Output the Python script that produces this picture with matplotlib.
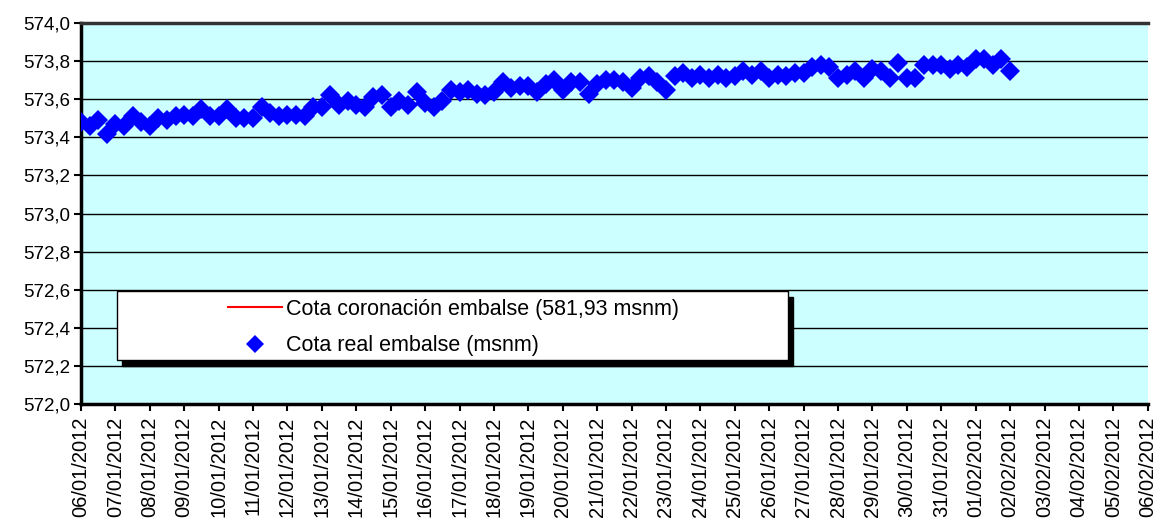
import matplotlib
matplotlib.use("Agg")
import matplotlib.pyplot as plt
import matplotlib.dates as mdates
from matplotlib.patches import Rectangle
from matplotlib.ticker import FuncFormatter, MultipleLocator
from matplotlib.lines import Line2D
import pandas as pd

plt.rcParams['font.family'] = ['Liberation Sans', 'DejaVu Sans']

start_time = "2012-01-06 00:00"
n_points = 109
cota_coronacion = 581.93
cota_real = [
    573.48, 573.46, 573.49, 573.42, 573.47, 573.46, 573.51, 573.48, 573.46, 573.50,
    573.49, 573.51, 573.52, 573.51, 573.55, 573.51, 573.51, 573.55, 573.50, 573.50,
    573.50, 573.56, 573.53, 573.51, 573.52, 573.52, 573.51, 573.56, 573.56, 573.62,
    573.57, 573.59, 573.57, 573.56,
    573.61, 573.62, 573.56, 573.59, 573.57, 573.64, 573.58, 573.56, 573.59, 573.65,
    573.64, 573.65, 573.63, 573.62, 573.64, 573.69, 573.66, 573.67, 573.67, 573.64,
    573.68, 573.70, 573.65, 573.69, 573.69, 573.63, 573.68, 573.70, 573.70, 573.69,
    573.66, 573.71, 573.72,
    573.69, 573.65, 573.72, 573.74, 573.71, 573.73, 573.71, 573.73, 573.71, 573.72,
    573.75, 573.73, 573.75, 573.71, 573.73, 573.72, 573.74, 573.74, 573.77, 573.78,
    573.77, 573.71, 573.73, 573.75, 573.71, 573.76, 573.75, 573.71, 573.79, 573.71,
    573.71, 573.78, 573.78, 573.78, 573.76, 573.78, 573.77, 573.81, 573.81, 573.78,
    573.81, 573.75,
]
x_start = "2012-01-06"
x_end = "2012-02-06"
y_min, y_max, y_step = 572.0, 574.0, 0.2
label_line = "Cota coronación embalse (581,93 msnm)"
label_pts = "Cota real embalse (msnm)"

times = pd.date_range(start_time, periods=n_points, freq="6h")

fig = plt.figure(figsize=(11.57, 5.25), dpi=100)
ax = fig.add_axes([0.070, 0.2305, 0.922, 0.7255])
ax.set_facecolor("#CCFFFF")

ax.axhline(cota_coronacion, color="red", lw=1.5)
ax.plot(times, cota_real, linestyle="none", marker="D", markersize=10.3,
        color="#0000FF", markeredgewidth=0, zorder=3)

ax.set_xlim(pd.Timestamp(x_start), pd.Timestamp(x_end))
ax.set_ylim(y_min, y_max)
ax.yaxis.set_major_locator(MultipleLocator(y_step))
ax.yaxis.set_major_formatter(FuncFormatter(lambda v, p: f"{v:.1f}".replace(".", ",")))
ax.xaxis.set_major_locator(mdates.DayLocator())
ax.xaxis.set_major_formatter(mdates.DateFormatter("%d/%m/%Y"))
ax.grid(axis="y", color="black", lw=1)
ax.set_axisbelow(True)

ax.tick_params(axis="y", direction="out", length=5, width=1.5, labelsize=13.5, pad=3)
ax.tick_params(axis="x", direction="out", length=5, width=1.5, labelsize=14.5,
               labelrotation=90, pad=4)
for lbl in ax.get_xticklabels():
    lbl.set_verticalalignment("top")

for s in ("left", "bottom"):
    ax.spines[s].set_linewidth(2.5)
    ax.spines[s].set_color("black")
ax.spines["top"].set_linewidth(2.5)
ax.spines["top"].set_color("#333333")
ax.spines["right"].set_visible(False)

# legend box with shadow
bx0, by0, bw, bh = 0.0337, 0.1155, 0.6290, 0.1811
ax.add_patch(Rectangle((bx0 + 0.005, by0 - 0.016), bw, bh, transform=ax.transAxes,
                       facecolor="black", edgecolor="black", zorder=6))
ax.add_patch(Rectangle((bx0, by0), bw, bh, transform=ax.transAxes,
                       facecolor="white", edgecolor="black", lw=1, zorder=7))
handles = [Line2D([], [], color="red", lw=1.5),
           Line2D([], [], linestyle="none", marker="D", markersize=9,
                  color="#0000FF", markeredgewidth=0)]
leg = ax.legend(handles, [label_line, label_pts], loc="upper left",
                bbox_to_anchor=(0.122, 0.321), frameon=False, fontsize=15.5,
                handlelength=2.5, handletextpad=0.2, labelspacing=0.72,
                borderpad=0.3)
leg.set_zorder(8)

fig.savefig("out.png", dpi=100)
